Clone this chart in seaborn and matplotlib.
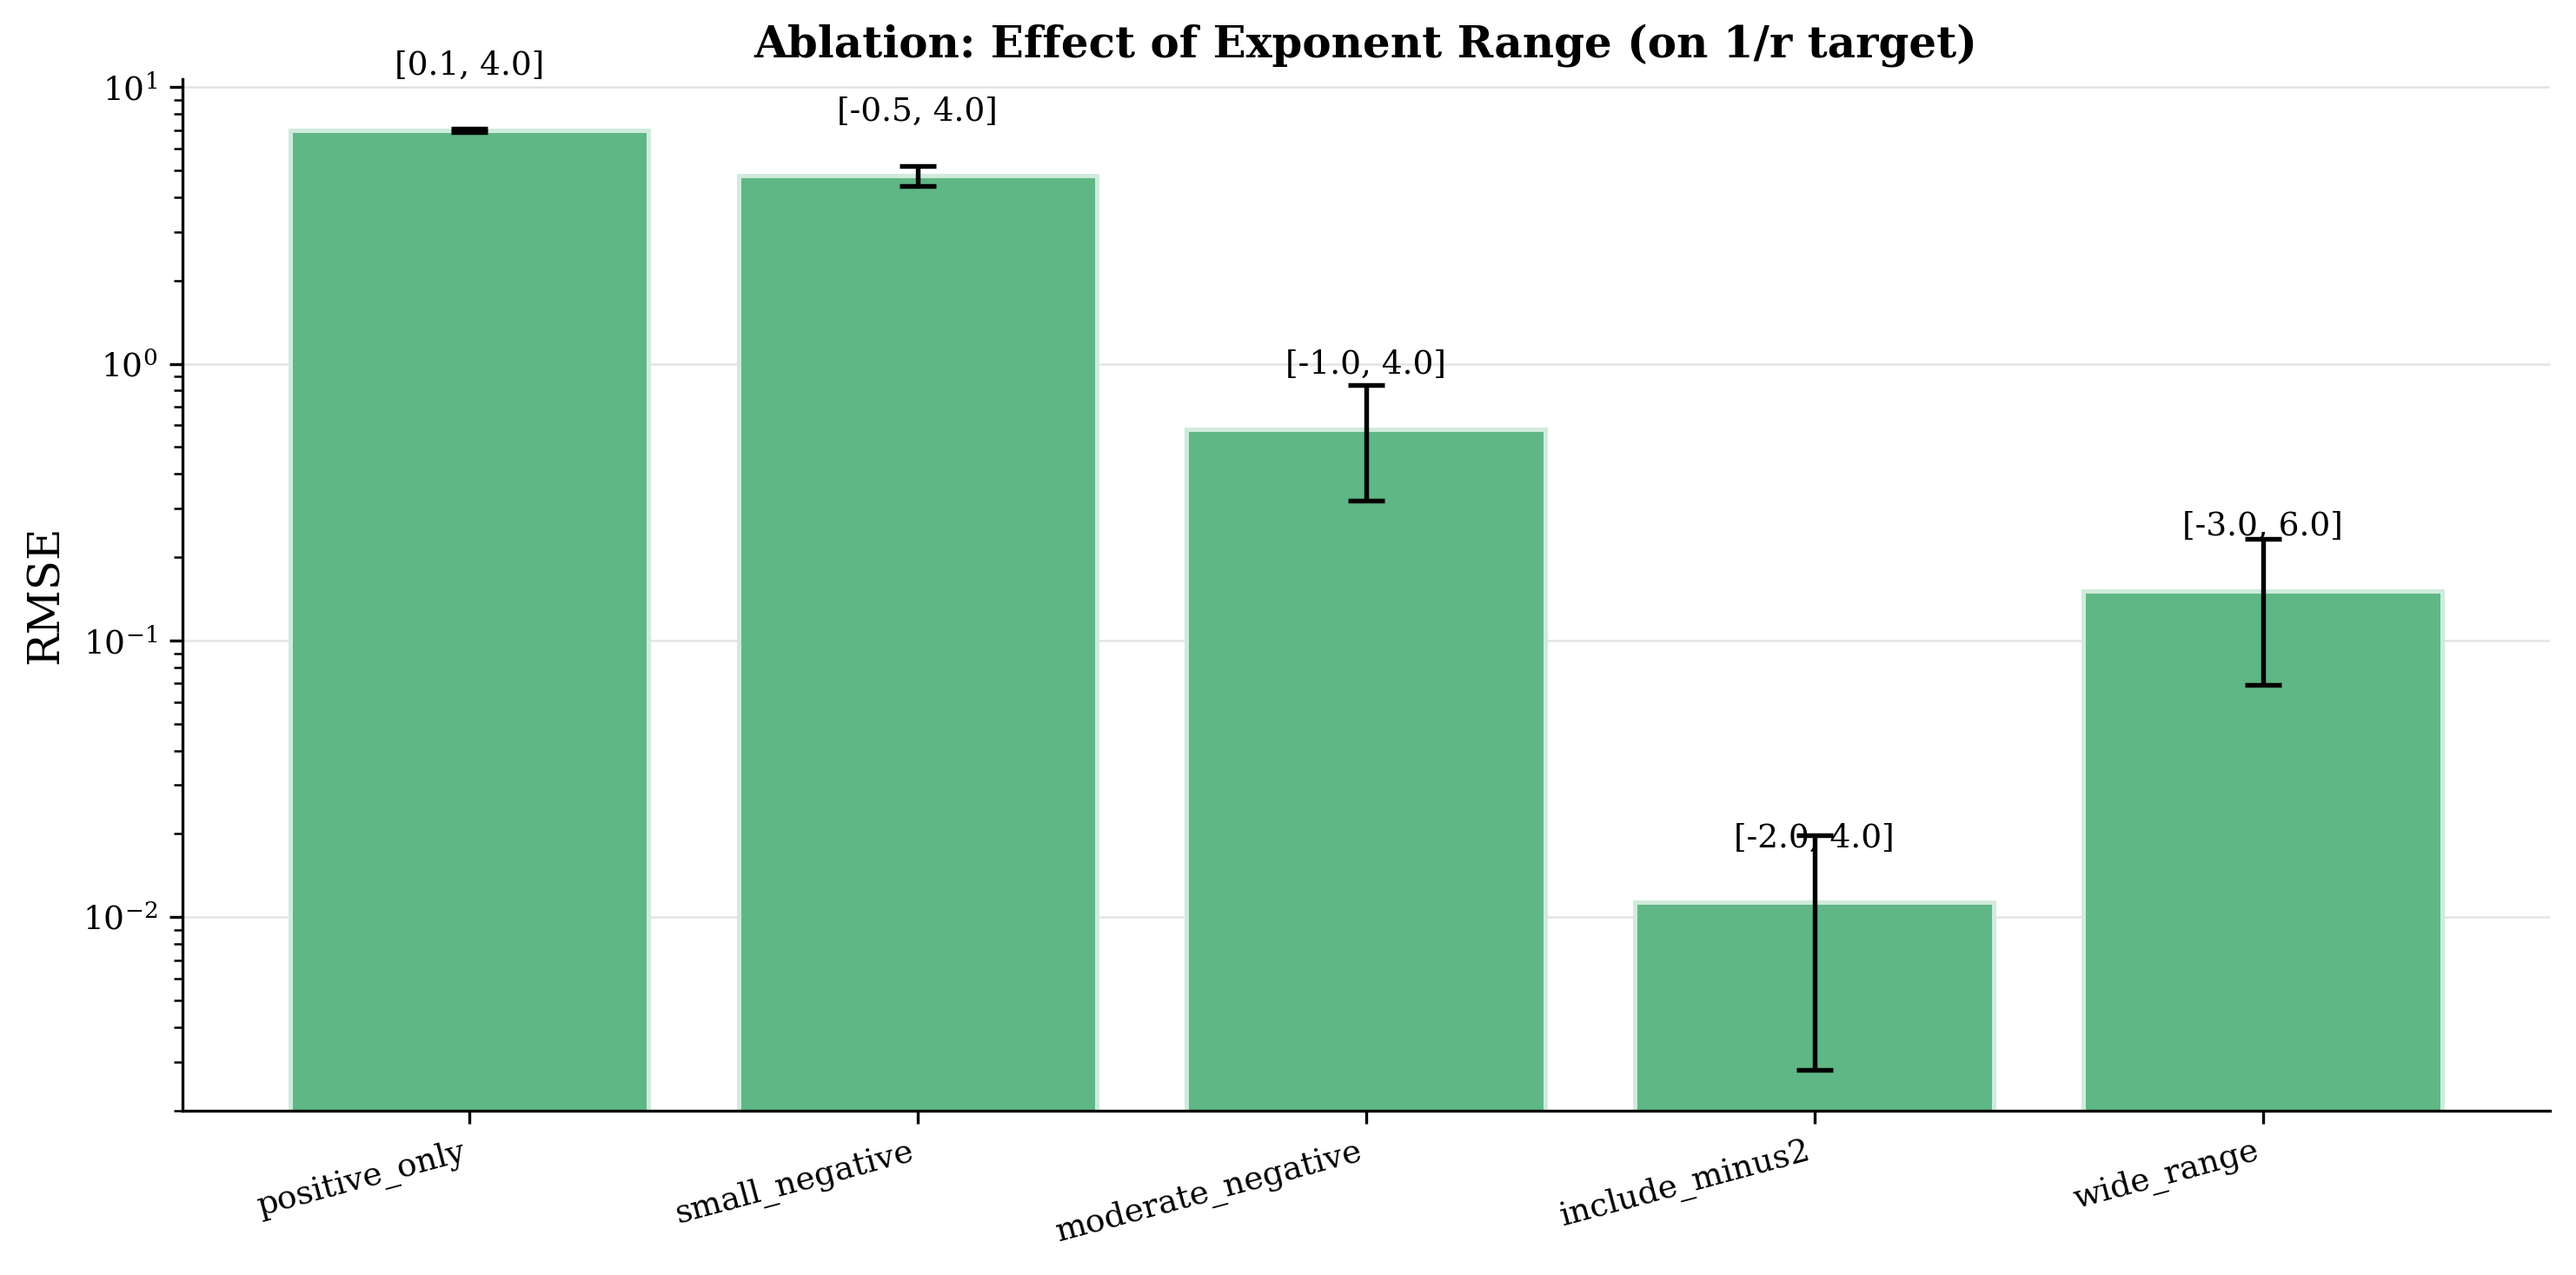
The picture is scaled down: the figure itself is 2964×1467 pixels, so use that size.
import matplotlib
matplotlib.use("Agg")
import matplotlib.pyplot as plt
from matplotlib.ticker import LogLocator, NullFormatter
import numpy as np
import pandas as pd
import seaborn as sns

# values
configs = ["positive_only", "small_negative", "moderate_negative", "include_minus2", "wide_range"]
ranges = ["[0.1, 4.0]", "[-0.5, 4.0]", "[-1.0, 4.0]", "[-2.0, 4.0]", "[-3.0, 6.0]"]
rmse_mean = [7.0, 4.78, 0.58, 0.0113, 0.151]
rmse_std = [0.1, 0.40, 0.26, 0.0085, 0.082]

BAR_COLOR = "#5fb785"

sns.set_style("ticks")
plt.rcParams["font.family"] = ["DejaVu Serif"]
plt.rcParams.update({
    "text.color": "black",
    "axes.labelcolor": "black",
    "xtick.color": "black",
    "ytick.color": "black",
    "axes.edgecolor": "black",
})

df = pd.DataFrame({"config": configs, "rmse": rmse_mean, "std": rmse_std, "range": ranges})

fig = plt.figure(figsize=(9.88, 4.89), dpi=300)
ax = fig.add_axes([0.0708, 0.129, 0.919, 0.809])

sns.barplot(
    data=df, x="config", y="rmse", ax=ax, color=BAR_COLOR, saturation=1,
    width=0.8, edgecolor="#d0ebdc", linewidth=1.2, errorbar=None,
)
ax.set_yscale("log")
xpos = np.arange(len(df))
ax.errorbar(
    xpos, df["rmse"], yerr=df["std"], fmt="none", ecolor="black",
    elinewidth=1.3, capsize=5, capthick=1.3, zorder=5,
)

for x, h, txt in zip(xpos, df["rmse"], df["range"]):
    ax.text(x, h * 1.5, txt, ha="center", va="bottom", fontsize=9)

ax.set_xlim(-0.64, 4.64)
ax.set_ylim(0.002, 10.7)
ax.yaxis.set_minor_locator(LogLocator(base=10, subs=np.arange(2, 10)))
ax.yaxis.set_minor_formatter(NullFormatter())
ax.tick_params(axis="y", which="minor", length=2.5, width=0.6, left=True)
ax.set_xlabel("")
ax.set_ylabel("RMSE", fontsize=12)
ax.set_title("Ablation: Effect of Exponent Range (on 1/r target)",
             fontsize=12, fontweight="bold", pad=6)
ax.yaxis.grid(True, which="major", color="#dddddd", linewidth=0.6, alpha=0.8)
ax.set_axisbelow(True)
ax.tick_params(axis="y", which="major", labelsize=9)
ax.tick_params(axis="x", labelsize=9)
plt.setp(ax.get_xticklabels(), rotation=15, ha="right")
sns.despine(ax=ax)

fig.savefig("out.png", dpi=300)
